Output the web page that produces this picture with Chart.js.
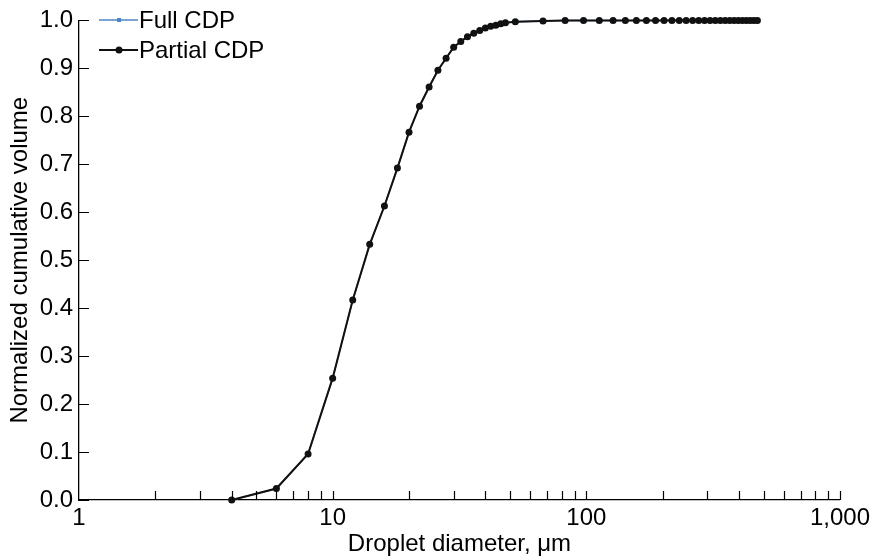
<!DOCTYPE html>
<html>
<head>
<meta charset="utf-8">
<script src="https://cdn.jsdelivr.net/npm/chart.js@4.4.0/dist/chart.umd.min.js"></script>
<style>
  html, body { margin: 0; padding: 0; background: #fff; }
  #wrap { width: 874px; height: 559px; }
</style>
</head>
<body>
<div id="wrap"><canvas id="cdpChart" width="874" height="559"></canvas></div>
<script>
// droplet diameter bins (um)
const diameters = [4, 6, 8, 10, 12, 14, 16, 18, 20, 22, 24, 26, 28, 30, 32, 34, 36, 38, 40, 42, 44, 46, 48,
  52.5, 67.5, 82.5, 97.5, 112.5, 127.5, 142.5, 157.5, 172.5, 187.5, 202.5, 217.5, 232.5, 247.5,
  262.5, 277.5, 292.5, 307.5, 322.5, 337.5, 352.5, 367.5, 382.5, 397.5, 412.5, 427.5, 442.5, 457.5, 472.5];

// normalized cumulative volume
const fullCdp = [0.000, 0.024, 0.096, 0.254, 0.417, 0.533, 0.613, 0.692, 0.767, 0.821, 0.861, 0.896, 0.921,
  0.944, 0.956, 0.966, 0.973, 0.979, 0.984, 0.988, 0.990, 0.993, 0.995,
  0.997, 0.999, 1.000, 1.000, 1.000, 1.000, 1.000, 1.000, 1.000, 1.000, 1.000, 1.000, 1.000, 1.000,
  1.000, 1.000, 1.000, 1.000, 1.000, 1.000, 1.000, 1.000, 1.000, 1.000, 1.000, 1.000, 1.000, 1.000, 1.000];
const partialCdp = [0.000, 0.024, 0.096, 0.254, 0.417, 0.533, 0.613, 0.692, 0.767, 0.821, 0.861, 0.896, 0.921,
  0.944, 0.956, 0.966, 0.973, 0.979, 0.984, 0.988, 0.990, 0.993, 0.995,
  0.997, 0.999, 1.000, 1.000, 1.000, 1.000, 1.000, 1.000, 1.000, 1.000, 1.000, 1.000, 1.000, 1.000,
  1.000, 1.000, 1.000, 1.000, 1.000, 1.000, 1.000, 1.000, 1.000, 1.000, 1.000, 1.000, 1.000, 1.000, 1.000];

const xTickValues = [1, 10, 100, 1000];
const yTickStep = 0.1;

const FONT = '"Liberation Sans", Arial, sans-serif';

// ticks drawn inward, like the original plot
const insideTicks = {
  id: 'insideTicks',
  afterDraw(chart) {
    const { ctx, chartArea, scales } = chart;
    ctx.save();
    ctx.strokeStyle = '#000';
    ctx.lineWidth = 1.2;
    ctx.beginPath();
    scales.y.ticks.forEach(t => {
      const y = Math.round(scales.y.getPixelForValue(t.value)) + 0.5;
      ctx.moveTo(chartArea.left, y);
      ctx.lineTo(chartArea.left + 10, y);
    });
    for (let d = 1; d <= 100; d *= 10) {
      for (let m = 2; m <= 10; m++) {
        const x = Math.round(scales.x.getPixelForValue(d * m)) + 0.5;
        ctx.moveTo(x, chartArea.bottom);
        ctx.lineTo(x, chartArea.bottom - 9);
      }
    }
    ctx.stroke();
    ctx.restore();
  }
};

// legend sitting inside the plot, top left
const innerLegend = {
  id: 'innerLegend',
  afterDraw(chart) {
    const ctx = chart.ctx;
    ctx.save();
    ctx.font = '24px ' + FONT;
    ctx.textBaseline = 'middle';
    chart.data.datasets.forEach((ds, i) => {
      const y = 20 + i * 30;
      ctx.strokeStyle = ds.borderColor;
      ctx.lineWidth = ds.borderWidth;
      ctx.beginPath();
      ctx.moveTo(99, y);
      ctx.lineTo(138, y);
      ctx.stroke();
      ctx.fillStyle = ds.pointBackgroundColor;
      if (ds.pointStyle === 'rect') {
        ctx.fillRect(117, y - 2, 4, 4);
      } else {
        ctx.beginPath();
        ctx.arc(119, y, 3.5, 0, Math.PI * 2);
        ctx.fill();
      }
      ctx.fillStyle = '#000';
      ctx.fillText(ds.label, 139, y + 1);
    });
    ctx.restore();
  }
};

const ctxt = document.getElementById('cdpChart').getContext('2d');
const cdpChart = new Chart(ctxt, {
  type: 'line',
  data: {
    datasets: [{
      label: 'Full CDP',
      data: diameters.map((d, i) => ({ x: d, y: fullCdp[i] })),
      borderColor: '#4f86c6',
      backgroundColor: '#4f86c6',
      pointBackgroundColor: '#4f86c6',
      pointBorderWidth: 0,
      pointStyle: 'rect',
      pointRadius: 3,
      borderWidth: 1.5,
      tension: 0,
      order: 2
    }, {
      label: 'Partial CDP',
      data: diameters.map((d, i) => ({ x: d, y: partialCdp[i] })),
      borderColor: '#111',
      backgroundColor: '#111',
      pointBackgroundColor: '#111',
      pointBorderWidth: 0,
      pointStyle: 'circle',
      pointRadius: 3.5,
      borderWidth: 2,
      tension: 0,
      order: 1
    }]
  },
  options: {
    responsive: false,
    animation: false,
    clip: false,
    layout: { padding: { top: 19, right: 33, left: 0, bottom: 0 } },
    plugins: { legend: { display: false }, tooltip: { enabled: false } },
    scales: {
      x: {
        type: 'logarithmic',
        min: 1,
        max: 1000,
        afterFit: s => { s.height = 59; },
        afterBuildTicks: s => { s.ticks = xTickValues.map(v => ({ value: v })); },
        grid: { display: false, drawTicks: false },
        border: { display: true, color: '#000', width: 1.3 },
        ticks: {
          autoSkip: false,
          maxRotation: 0,
          padding: 4,
          color: '#000',
          font: { family: FONT, size: 24 },
          callback: v => Number(v).toLocaleString('en-US')
        },
        title: {
          display: true,
          text: 'Droplet diameter, \u03bcm',
          color: '#000',
          padding: { top: 0, bottom: 0 },
          font: { family: FONT, size: 24 }
        }
      },
      y: {
        min: 0,
        max: 1,
        afterFit: s => { s.width = 79; },
        grid: { display: false, drawTicks: false },
        border: { display: true, color: '#000', width: 1.3 },
        ticks: {
          stepSize: yTickStep,
          padding: 6,
          color: '#000',
          font: { family: FONT, size: 24 },
          callback: v => v.toFixed(1)
        },
        title: {
          display: true,
          text: 'Normalized cumulative volume',
          color: '#000',
          padding: { top: 6, bottom: 0 },
          font: { family: FONT, size: 24 }
        }
      }
    }
  },
  plugins: [insideTicks, innerLegend]
});
</script>
</body>
</html>
